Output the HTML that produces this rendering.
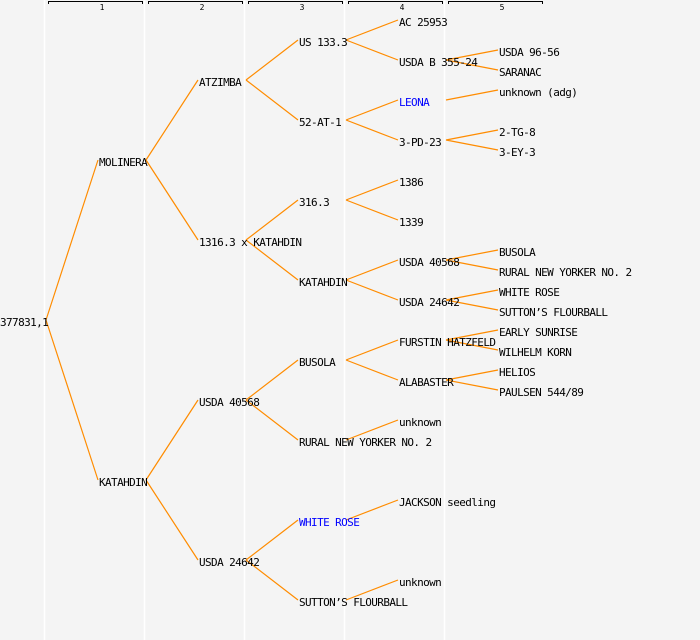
<!DOCTYPE html>
<html><head><meta charset="utf-8"><style>
html,body{margin:0;padding:0;background:#f4f4f4;}
svg{display:block}
text{font-family:"DejaVu Sans Mono","Liberation Mono",monospace;font-size:11px;letter-spacing:-0.6px;fill:#000}
.h{font-size:8px;letter-spacing:0;text-anchor:middle}
.b{fill:#0000ff}
</style></head><body>
<svg width="700" height="640" xmlns="http://www.w3.org/2000/svg">
<rect width="700" height="640" fill="#f4f4f4"/>
<g stroke="#fff" stroke-width="1.5">
<line x1="44.5" y1="0" x2="44.5" y2="640"/><line x1="144.5" y1="0" x2="144.5" y2="640"/>
<line x1="244.5" y1="0" x2="244.5" y2="640"/><line x1="344.5" y1="0" x2="344.5" y2="640"/>
<line x1="444.5" y1="0" x2="444.5" y2="640"/>
</g>
<g stroke="#000" fill="none" stroke-width="1">
<path d="M48.5,4V1.5H142.5V4"/><path d="M148.5,4V1.5H242.5V4"/><path d="M248.5,4V1.5H342.5V4"/><path d="M348.5,4V1.5H442.5V4"/><path d="M448.5,4V1.5H542.5V4"/>
</g>
<text class="h" x="102" y="10">1</text><text class="h" x="202" y="10">2</text><text class="h" x="302" y="10">3</text><text class="h" x="402" y="10">4</text><text class="h" x="502" y="10">5</text>
<g stroke="#ff8c00" stroke-width="1.2" fill="none">
<path d="M46,320L98,160M46,320L98,480"/>
<path d="M146,160L198,80M146,160L198,240M146,480L198,400M146,480L198,560"/>
<path d="M246,80L298,40M246,80L298,120M246,240L298,200M246,240L298,280M246,400L298,360M246,400L298,440M246,560L298,520M246,560L298,600"/>
<path d="M346,40L398,20M346,40L398,60M346,120L398,100M346,120L398,140M346,200L398,180M346,200L398,220M346,280L398,260M346,280L398,300M346,360L398,340M346,360L398,380M346,440L398,420M346,520L398,500M346,600L398,580"/>
<path d="M446,60L498,50M446,60L498,70M446,100L498,90M446,140L498,130M446,140L498,150M446,260L498,250M446,260L498,270M446,300L498,290M446,300L498,310M446,340L498,330M446,340L498,350M446,380L498,370M446,380L498,390"/>
</g>
<text x="0" y="326">377831,1</text>
<text x="99" y="166">MOLINERA</text><text x="99" y="486">KATAHDIN</text>
<text x="199" y="86">ATZIMBA</text><text x="199" y="246">1316.3 x KATAHDIN</text><text x="199" y="406">USDA 40568</text><text x="199" y="566">USDA 24642</text>
<text x="299" y="46">US 133.3</text><text x="299" y="126">52-AT-1</text><text x="299" y="206">316.3</text><text x="299" y="286">KATAHDIN</text><text x="299" y="366">BUSOLA</text><text x="299" y="446">RURAL NEW YORKER NO. 2</text><text class="b" x="299" y="526">WHITE ROSE</text><text x="299" y="606">SUTTON’S FLOURBALL</text>
<text x="399" y="26">AC 25953</text><text x="399" y="66">USDA B 355-24</text><text class="b" x="399" y="106">LEONA</text><text x="399" y="146">3-PD-23</text><text x="399" y="186">1386</text><text x="399" y="226">1339</text><text x="399" y="266">USDA 40568</text><text x="399" y="306">USDA 24642</text><text x="399" y="346">FURSTIN HATZFELD</text><text x="399" y="386">ALABASTER</text><text x="399" y="426">unknown</text><text x="399" y="506">JACKSON seedling</text><text x="399" y="586">unknown</text>
<text x="499" y="56">USDA 96-56</text><text x="499" y="76">SARANAC</text><text x="499" y="96">unknown (adg)</text><text x="499" y="136">2-TG-8</text><text x="499" y="156">3-EY-3</text><text x="499" y="256">BUSOLA</text><text x="499" y="276">RURAL NEW YORKER NO. 2</text><text x="499" y="296">WHITE ROSE</text><text x="499" y="316">SUTTON’S FLOURBALL</text><text x="499" y="336">EARLY SUNRISE</text><text x="499" y="356">WILHELM KORN</text><text x="499" y="376">HELIOS</text><text x="499" y="396">PAULSEN 544/89</text>
</svg>
</body></html>
